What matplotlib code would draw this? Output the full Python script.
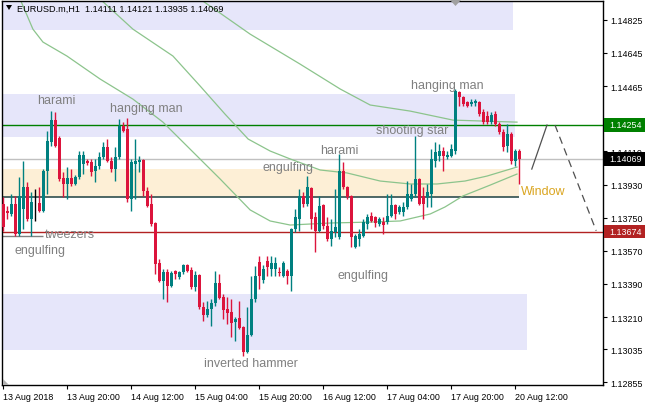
import numpy as np
import matplotlib.pyplot as plt
from matplotlib.patches import Rectangle, Polygon
from matplotlib.transforms import blended_transform_factory

plt.rcParams['font.family'] = ['Liberation Sans', 'DejaVu Sans']

# EURUSD.m H1, one entry per hourly bar starting 13 Aug 2018 04:00
opens = [1.13824, 1.13786, 1.13770, 1.13824, 1.13661, 1.13797, 1.13916, 1.13742, 1.13828, 1.13829,
         1.13787, 1.14005, 1.14162, 1.14282, 1.14182, 1.13965, 1.13932, 1.13965, 1.13932, 1.13970,
         1.14041, 1.14059, 1.14052, 1.14005, 1.14032, 1.14077, 1.14132, 1.14059, 1.14014, 1.14077,
         1.14249, 1.14231, 1.13851, 1.14041, 1.14050, 1.14063, 1.13896, 1.13824, 1.13719, 1.13502,
         1.13407, 1.13453, 1.13380, 1.13462, 1.13426, 1.13453, 1.13493, 1.13467, 1.13372, 1.13438,
         1.13263, 1.13221, 1.13254, 1.13286, 1.13395, 1.13317, 1.13254, 1.13239, 1.13181, 1.13203,
         1.13154, 1.13019, 1.13113, 1.13308, 1.13509, 1.13411, 1.13514, 1.13471, 1.13471, 1.13455,
         1.13433, 1.13460, 1.13435, 1.13688, 1.13742, 1.13869, 1.13824, 1.13911, 1.13753, 1.13679,
         1.13818, 1.13706, 1.13634, 1.13672, 1.13643, 1.14005, 1.13916, 1.13869, 1.13589, 1.13634,
         1.13652, 1.13715, 1.13757, 1.13752, 1.13715, 1.13728, 1.13724, 1.13760, 1.13818, 1.13780,
         1.13780, 1.13808, 1.13851, 1.13878, 1.13960, 1.13869, 1.13860, 1.13878, 1.14059, 1.14086,
         1.14113, 1.14077, 1.14086, 1.14113, 1.14430, 1.14403, 1.14376, 1.14367, 1.14372, 1.14376,
         1.14322, 1.14303, 1.14271, 1.14313, 1.14258, 1.14213, 1.14140, 1.14204, 1.14059, 1.14111]
highs = [1.13862, 1.13815, 1.13878, 1.13869, 1.13970, 1.14059, 1.13943, 1.13889, 1.13905, 1.13916,
         1.14014, 1.14222, 1.14330, 1.14323, 1.14195, 1.13998, 1.14025, 1.14014, 1.13981, 1.14113,
         1.14113, 1.14068, 1.14068, 1.14068, 1.14105, 1.14159, 1.14177, 1.14077, 1.14132, 1.14285,
         1.14267, 1.14291, 1.14068, 1.14177, 1.14086, 1.14068, 1.13916, 1.13878, 1.13724, 1.13525,
         1.13471, 1.13471, 1.13462, 1.13467, 1.13462, 1.13498, 1.13498, 1.13480, 1.13462, 1.13444,
         1.13290, 1.13299, 1.13308, 1.13462, 1.13444, 1.13335, 1.13319, 1.13308, 1.13210, 1.13299,
         1.13163, 1.13263, 1.13435, 1.13489, 1.13543, 1.13493, 1.13541, 1.13541, 1.13536, 1.13482,
         1.13514, 1.13471, 1.13694, 1.13797, 1.13905, 1.13887, 1.13978, 1.13915, 1.13780, 1.13869,
         1.13824, 1.13752, 1.13742, 1.13905, 1.14095, 1.14050, 1.13923, 1.13873, 1.13661, 1.13688,
         1.13742, 1.13770, 1.13779, 1.13760, 1.13752, 1.13752, 1.13878, 1.13878, 1.13824, 1.13818,
         1.13833, 1.13950, 1.13932, 1.14195, 1.13963, 1.13915, 1.13932, 1.14122, 1.14159, 1.14150,
         1.14132, 1.14113, 1.14150, 1.14448, 1.14439, 1.14412, 1.14385, 1.14394, 1.14394, 1.14385,
         1.14340, 1.14330, 1.14322, 1.14330, 1.14267, 1.14231, 1.14258, 1.14213, 1.14122, 1.14121]
lows = [1.13677, 1.13742, 1.13760, 1.13652, 1.13652, 1.13688, 1.13733, 1.13652, 1.13733, 1.13782,
        1.13780, 1.13878, 1.14140, 1.14133, 1.13950, 1.13862, 1.13851, 1.13923, 1.13927, 1.13960,
        1.13987, 1.14036, 1.13978, 1.13943, 1.14014, 1.14068, 1.14050, 1.13996, 1.13950, 1.14068,
        1.14213, 1.13833, 1.13787, 1.13851, 1.13998, 1.13869, 1.13806, 1.13706, 1.13444, 1.13399,
        1.13308, 1.13290, 1.13372, 1.13417, 1.13417, 1.13444, 1.13453, 1.13362, 1.13353, 1.13254,
        1.13190, 1.13209, 1.13163, 1.13272, 1.13308, 1.13199, 1.13172, 1.13100, 1.13082, 1.13145,
        1.13000, 1.13015, 1.13109, 1.13290, 1.13362, 1.13395, 1.13433, 1.13433, 1.13433, 1.13433,
        1.13427, 1.13389, 1.13353, 1.13670, 1.13679, 1.13806, 1.13815, 1.13688, 1.13562, 1.13670,
        1.13688, 1.13625, 1.13597, 1.13643, 1.13634, 1.13905, 1.13851, 1.13589, 1.13583, 1.13597,
        1.13645, 1.13688, 1.13724, 1.13697, 1.13706, 1.13661, 1.13715, 1.13752, 1.13742, 1.13770,
        1.13760, 1.13797, 1.13842, 1.13860, 1.13818, 1.13742, 1.13806, 1.13808, 1.14023, 1.14059,
        1.14005, 1.14068, 1.14077, 1.14095, 1.14358, 1.14358, 1.14353, 1.14358, 1.14358, 1.14303,
        1.14258, 1.14258, 1.14258, 1.14249, 1.14204, 1.14113, 1.14105, 1.14041, 1.14032, 1.13935]
closes = [1.13699, 1.13778, 1.13824, 1.13661, 1.13869, 1.13916, 1.13742, 1.13835, 1.13828, 1.13787,
          1.14005, 1.14168, 1.14282, 1.14137, 1.13960, 1.13932, 1.13965, 1.13932, 1.13972, 1.14090,
          1.14090, 1.14046, 1.13998, 1.14032, 1.14077, 1.14132, 1.14059, 1.14014, 1.14077, 1.14249,
          1.14222, 1.13851, 1.14050, 1.14059, 1.14063, 1.13896, 1.13815, 1.13715, 1.13498, 1.13407,
          1.13453, 1.13380, 1.13448, 1.13444, 1.13453, 1.13493, 1.13462, 1.13372, 1.13438, 1.13263,
          1.13221, 1.13254, 1.13286, 1.13395, 1.13312, 1.13250, 1.13232, 1.13178, 1.13199, 1.13149,
          1.13019, 1.13113, 1.13308, 1.13435, 1.13433, 1.13471, 1.13482, 1.13503, 1.13503, 1.13449,
          1.13503, 1.13433, 1.13688, 1.13752, 1.13869, 1.13824, 1.13916, 1.13742, 1.13679, 1.13815,
          1.13706, 1.13634, 1.13679, 1.13699, 1.14005, 1.13916, 1.13860, 1.13643, 1.13652, 1.13661,
          1.13724, 1.13752, 1.13733, 1.13721, 1.13742, 1.13710, 1.13760, 1.13818, 1.13770, 1.13808,
          1.13808, 1.13878, 1.13878, 1.13960, 1.13824, 1.13824, 1.13887, 1.14068, 1.14105, 1.14113,
          1.14086, 1.14090, 1.14122, 1.14439, 1.14403, 1.14367, 1.14358, 1.14376, 1.14385, 1.14313,
          1.14267, 1.14267, 1.14307, 1.14258, 1.14213, 1.14132, 1.14204, 1.14059, 1.14113, 1.14069]

time_labels = ["13 Aug 2018", "13 Aug 20:00", "14 Aug 12:00", "15 Aug 04:00", "15 Aug 20:00",
               "16 Aug 12:00", "17 Aug 04:00", "17 Aug 20:00", "20 Aug 12:00"]
time_label_bars = [0, 16, 32, 48, 64, 80, 96, 112, 128]
price_ticks = [1.14825, 1.14645, 1.14465, 1.14285, 1.14110, 1.13930,
               1.13750, 1.13570, 1.13390, 1.13210, 1.13035, 1.12855]

# three moving averages: (bar, price) vertices
ma_fast_bar = [4.2, 7.4, 9.9, 15.9, 24.2, 32.4, 39.9, 49.2, 54.2, 61.7, 66.7, 71.7,
               81.7, 91.7, 99.2, 106.7, 110.4, 114.9, 121.7, 128.4]
ma_fast = [1.14937, 1.14774, 1.14704, 1.14628, 1.14503, 1.14394, 1.14269, 1.14068, 1.13960,
           1.13792, 1.13732, 1.13710, 1.13721, 1.13726, 1.13732, 1.13770, 1.13808, 1.13868,
           1.13927, 1.13987]
ma_mid_bar = [24.2, 32.4, 42.4, 49.2, 55.4, 61.2, 66.7, 71.7, 79.2, 85.9, 94.2, 101.7,
              108.4, 115.4, 120.9, 128.4]
ma_mid = [1.14937, 1.14774, 1.14628, 1.14465, 1.14313, 1.14177, 1.14112, 1.14069, 1.14009,
          1.13993, 1.13949, 1.13933, 1.13933, 1.13949, 1.13976, 1.14025]
ma_slow_bar = [49.2, 61.7, 74.2, 84.2, 91.7, 101.7, 112.4, 128.4]
ma_slow = [1.14937, 1.14747, 1.14584, 1.14449, 1.14362, 1.14329, 1.14280, 1.14269]

# horizontal levels
level_resist = 1.14254
level_bid = 1.14069
level_support = 1.13674
level_window = 1.13862
level_tweezers = 1.13652

# zones: bar from, bar to, low, high
lavender_zones = [(-1, 127.4, 1.14769, 1.14960),
                  (-1, 127.9, 1.14190, 1.14422),
                  (-1, 130.9, 1.13033, 1.13336)]
window_zone = (-1, 128.9, 1.13862, 1.14014)

# projected path
proj_up_bar, proj_up = [132.1, 135.9], [1.14014, 1.14253]
proj_down_bar, proj_down = [137.9, 148.2], [1.14253, 1.13679]

patterns = [("harami", 13.2, 1.14389, "center"),
            ("hanging man", 35.8, 1.14346, "center"),
            ("tweezers", 10.4, 1.13661, "left"),
            ("engulfing", 9.2, 1.13574, "center"),
            ("engulfing", 71.1, 1.14025, "center"),
            ("harami", 83.9, 1.14115, "center"),
            ("inverted hammer", 61.9, 1.12961, "center"),
            ("engulfing", 89.9, 1.13439, "center"),
            ("hanging man", 110.9, 1.14471, "center"),
            ("shooting star", 102.1, 1.14226, "center")]


def main():
    fig = plt.figure(figsize=(6.46, 4.06), dpi=100)
    ax = fig.add_axes([2 / 646, 20 / 406, 601 / 646, 384 / 406])
    ax.set_xlim(-0.33, 149.9)
    ax.set_ylim(1.12841, 1.14927)

    for b0, b1, lo, hi in lavender_zones:
        ax.add_patch(Rectangle((b0, lo), b1 - b0, hi - lo, fc='#e6e6fa', ec='none', zorder=0))
    b0, b1, lo, hi = window_zone
    ax.add_patch(Rectangle((b0, lo), b1 - b0, hi - lo, fc='#fdefd6', ec='none', zorder=0))

    ax.axhline(level_resist, color='#008000', lw=1, zorder=1)
    ax.axhline(level_bid, color='#c0c0c0', lw=1, zorder=1)
    ax.axhline(level_support, color='#b22222', lw=1, zorder=1)
    ax.hlines(level_window, -1, 128.9, color='#2f4f4f', lw=1.2, zorder=1)
    ax.hlines(level_tweezers, -1, 10, color='#808080', lw=1, zorder=1)

    for bx, by in [(ma_fast_bar, ma_fast), (ma_mid_bar, ma_mid), (ma_slow_bar, ma_slow)]:
        ax.plot(bx, by, color='#8cc48c', lw=0.9, zorder=2)

    o, h, l, c = (np.array(v) for v in (opens, highs, lows, closes))
    x = np.arange(len(o))
    col = np.where(c > o, '#008080', np.where(c < o, '#dc143c', '#000000'))
    ax.vlines(x, l, h, colors=col, lw=1, zorder=3)
    body = np.maximum(np.abs(c - o), 0.00003)
    ax.bar(x, body, bottom=np.minimum(o, c), width=0.72, color=col, lw=0, zorder=4)

    ax.plot(proj_up_bar, proj_up, color='#505050', lw=0.9, zorder=2)
    ax.plot(proj_down_bar, proj_down, color='#505050', lw=0.9, ls=(0, (6, 4)), zorder=2)

    for txt, bx, by, ha in patterns:
        ax.text(bx, by, txt, ha=ha, va='center', fontsize=9, color='#808080', zorder=5)
    ax.text(134.9, 1.13895, "Window", ha='center', va='center', fontsize=9,
            color='#daa520', zorder=5)

    # axes look
    for s in ax.spines.values():
        s.set_color('black'); s.set_linewidth(1)
    ax.yaxis.tick_right()
    ax.set_yticks(price_ticks)
    ax.set_yticklabels([f"{p:.5f}" for p in price_ticks])
    ax.set_xticks(time_label_bars)
    ax.set_xticklabels(time_labels)
    for lb in ax.get_xticklabels():
        lb.set_ha('left')
    ax.tick_params(axis='both', length=3, width=0.8, labelsize=6.4, pad=2, colors='black')

    # price tags on the right scale
    tr = blended_transform_factory(ax.transAxes, ax.transData)
    for price, bg in [(level_resist, '#008000'), (level_bid, '#000000'), (level_support, '#b22222')]:
        ax.add_patch(Rectangle((1.0017, price - 0.00036), 0.068, 0.00072, transform=tr,
                               fc=bg, ec='none', clip_on=False, zorder=6))
        ax.text(1.0105, price, f"{price:.5f}", transform=tr, ha='left', va='center',
                fontsize=6.4, color='white', zorder=7, clip_on=False)

    # header line and chart-shift markers
    fig.add_artist(Polygon([(6 / 646, 1 - 6 / 406), (12 / 646, 1 - 6 / 406),
                            (9 / 646, 1 - 11 / 406)], closed=True, fc='black', ec='none',
                           transform=fig.transFigure))
    fig.text(17 / 646, 1 - 9 / 406, "EURUSD.m,H1  1.14111 1.14121 1.13935 1.14069",
             fontsize=6.6, va='center', ha='left')
    fig.add_artist(Polygon([(450 / 646, 1 - 1 / 406), (461 / 646, 1 - 1 / 406),
                            (455.5 / 646, 1 - 7 / 406)], closed=True, fc='#a0a0a0', ec='none',
                           transform=fig.transFigure))
    fig.add_artist(Polygon([(3 / 646, 20 / 406), (3 / 646, 26 / 406), (9 / 646, 20 / 406)],
                           closed=True, fc='#b0b0b0', ec='none', transform=fig.transFigure))

    fig.savefig("out.png", dpi=100)


if __name__ == "__main__":
    main()
